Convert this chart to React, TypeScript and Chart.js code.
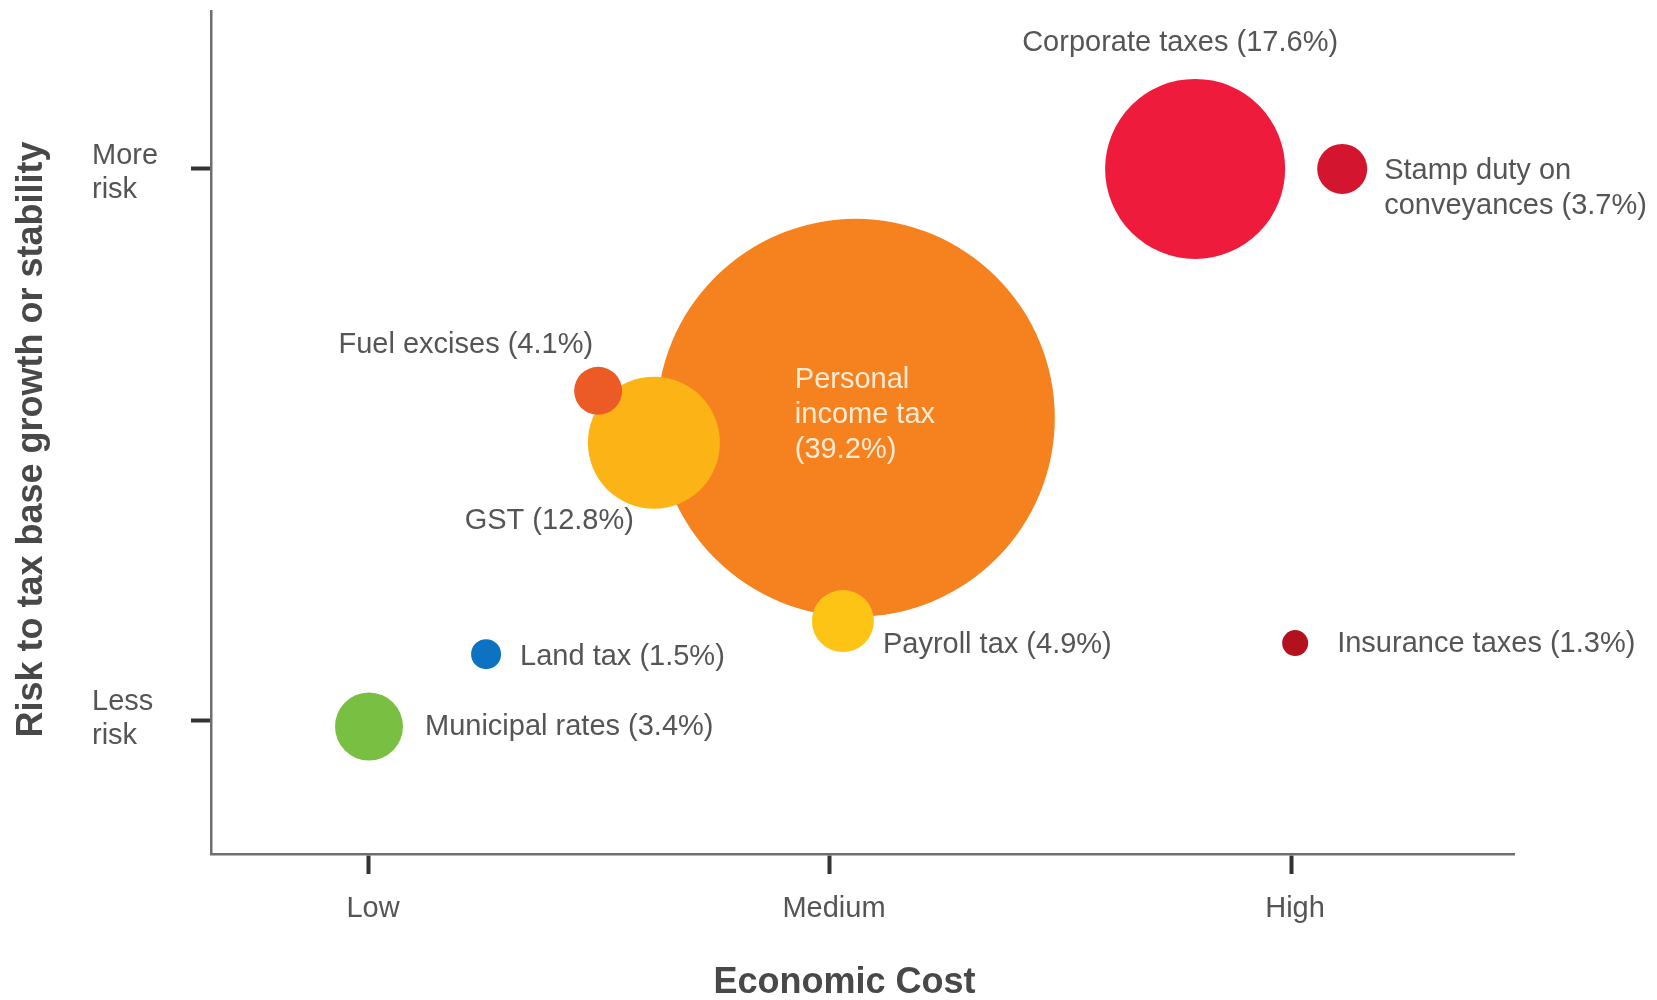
import React, { useEffect, useRef } from "react";
import { Chart, registerables } from "chart.js";

Chart.register(...registerables);

// ---- data ----
const taxNameLines: string[][] = [
  ["Personal", "income tax"],
  ["GST"],
  ["Fuel excises"],
  ["Payroll tax"],
  ["Corporate taxes"],
  ["Stamp duty on", "conveyances"],
  ["Land tax"],
  ["Municipal rates"],
  ["Insurance taxes"],
];
const revenueShares = [39.2, 12.8, 4.1, 4.9, 17.6, 3.7, 1.5, 3.4, 1.3];
const economicCost = [2.056, 1.618, 1.497, 2.028, 2.792, 3.111, 1.254, 1.0, 3.009];
const baseRisk = [1.549, 1.504, 1.598, 1.181, 2.0, 2.0, 1.121, 0.99, 1.141];
const bubbleSize = [199, 66, 24, 31, 90, 25, 15, 34, 13];
const bubbleColors = [
  "#F5821F",
  "#FBB316",
  "#EC5A25",
  "#FDC416",
  "#EE1B3C",
  "#D3152F",
  "#0D72C2",
  "#79BF41",
  "#B3111E",
];

const xTickValues = [1, 2, 3];
const xTickLabels = ["Low", "Medium", "High"];
const yTickValues = [1, 2];
const yTickLabels = [["Less", "risk"], ["More", "risk"]];
const xTitle = "Economic Cost";
const yTitle = "Risk to tax base growth or stability";

// ---- label layout (offsets from bubble centre) ----
const labelLayout = [
  { dx: -61, dy: -38, align: "left", color: "#FDEBD6", shareNewLine: true },
  { dx: -20, dy: 78, align: "right" },
  { dx: -5, dy: -46, align: "right" },
  { dx: 40, dy: 24, align: "left" },
  { dx: -15, dy: -126, align: "center" },
  { dx: 42, dy: 2, align: "left" },
  { dx: 34, dy: 3, align: "left" },
  { dx: 56, dy: 1, align: "left" },
  { dx: 42, dy: 1, align: "left" },
];

const FONT = '"Liberation Sans", Arial, Helvetica, sans-serif';
const TEXT_COLOR = "#555555";

function labelLinesFor(i: number): string[] {
  const lines = taxNameLines[i].slice();
  const share = `(${revenueShares[i].toFixed(1)}%)`;
  if ((labelLayout[i] as any).shareNewLine) {
    lines.push(share);
  } else {
    lines[lines.length - 1] = lines[lines.length - 1] + " " + share;
  }
  return lines;
}

const annotatePlugin = {
  id: "annotate",
  afterDatasetsDraw(chart: any) {
    const ctx = chart.ctx;
    const meta = chart.getDatasetMeta(0);
    ctx.save();
    ctx.font = `29px ${FONT}`;
    ctx.textBaseline = "middle";
    meta.data.forEach((el: any, i: number) => {
      const lay: any = labelLayout[i];
      const lines = labelLinesFor(i);
      ctx.fillStyle = lay.color || TEXT_COLOR;
      ctx.textAlign = lay.align;
      lines.forEach((ln, k) => {
        ctx.fillText(ln, el.x + lay.dx, el.y + lay.dy + k * 35);
      });
    });
    ctx.restore();
  },
  afterDraw(chart: any) {
    const ctx = chart.ctx;
    const xs = chart.scales.x;
    const ys = chart.scales.y;
    const area = chart.chartArea;
    ctx.save();
    ctx.fillStyle = TEXT_COLOR;
    ctx.font = `29px ${FONT}`;
    ctx.textBaseline = "middle";
    // x tick labels
    ctx.textAlign = "center";
    xTickValues.forEach((v, i) => {
      ctx.fillText(xTickLabels[i], xs.getPixelForValue(v) + 4, area.bottom + 55);
    });
    // y tick labels
    ctx.textAlign = "left";
    yTickValues.forEach((v, i) => {
      const py = ys.getPixelForValue(v);
      const lines = yTickLabels[i];
      const shift = i === 1 ? -13 : -19;
      lines.forEach((ln, k) => {
        ctx.fillText(ln, 92, py + shift + k * 34);
      });
    });
    // titles
    ctx.fillStyle = "#484848";
    ctx.font = `bold 36px ${FONT}`;
    ctx.textAlign = "center";
    ctx.fillText(xTitle, (area.left + area.right) / 2 - 18, 983);
    ctx.translate(32, (area.top + area.bottom) / 2 + 7);
    ctx.rotate(-Math.PI / 2);
    ctx.fillText(yTitle, 0, 0);
    ctx.restore();
  },
};

export default function App() {
  const canvasRef = useRef<HTMLCanvasElement | null>(null);

  useEffect(() => {
    if (!canvasRef.current) return;
    const points = economicCost.map((x, i) => ({ x, y: baseRisk[i], r: bubbleSize[i] }));
    const chart = new Chart(canvasRef.current, {
      type: "bubble",
      data: {
        datasets: [
          {
            label: "Taxes",
            data: points,
            backgroundColor: bubbleColors,
            borderWidth: 0,
            hoverBorderWidth: 0,
            clip: false as any,
          },
        ],
      },
      options: {
        responsive: false,
        animation: false,
        events: [],
        layout: { autoPadding: false, padding: { left: 191, right: 143, top: 11, bottom: 126 } },
        plugins: {
          legend: { display: false },
          tooltip: { enabled: false },
        },
        scales: {
          x: {
            type: "linear",
            min: 0.6573,
            max: 3.4837,
            afterBuildTicks: (s: any) => {
              s.ticks = xTickValues.map((v) => ({ value: v }));
            },
            ticks: { display: false },
            grid: {
              drawOnChartArea: false,
              drawTicks: true,
              tickLength: 20,
              tickWidth: 4,
              tickColor: "#333333",
            },
            border: { display: true, color: "#6e6e6e", width: 2.5 },
          },
          y: {
            type: "linear",
            min: 0.759,
            max: 2.286,
            afterBuildTicks: (s: any) => {
              s.ticks = yTickValues.map((v) => ({ value: v }));
            },
            ticks: { display: false },
            grid: {
              drawOnChartArea: false,
              drawTicks: true,
              tickLength: 20,
              tickWidth: 4,
              tickColor: "#333333",
            },
            border: { display: true, color: "#6e6e6e", width: 2.5 },
          },
        },
      },
      plugins: [annotatePlugin],
    });
    return () => chart.destroy();
  }, []);

  return (
    <div style={{ position: "absolute", left: 0, top: 0, width: 1657, height: 1000, background: "#ffffff" }}>
      <canvas ref={canvasRef} width={1657} height={1000} style={{ width: 1657, height: 1000, display: "block" }} />
    </div>
  );
}
